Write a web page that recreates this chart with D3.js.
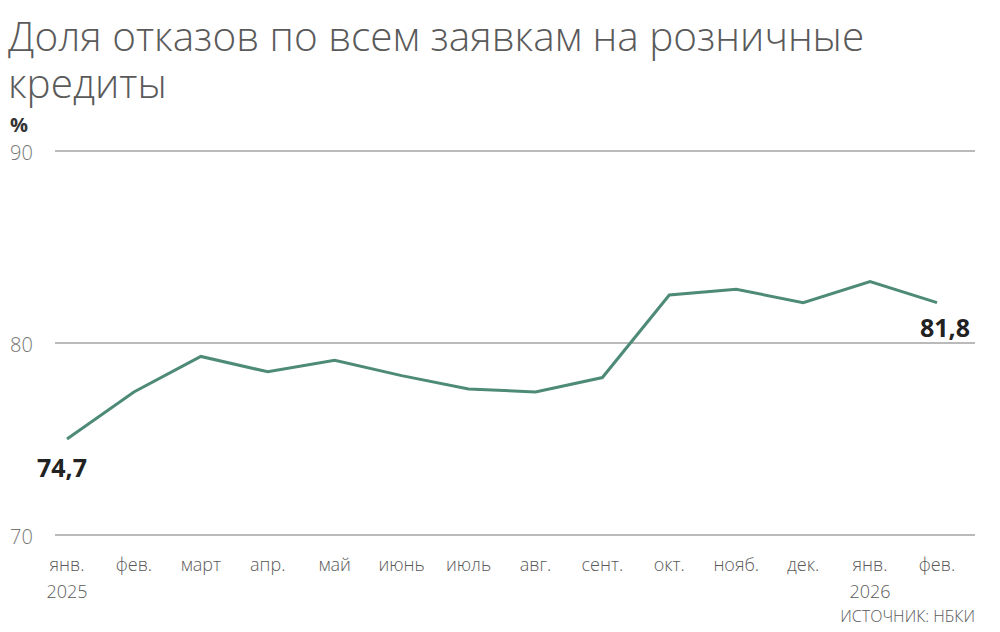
<!DOCTYPE html>
<html><head><meta charset="utf-8">
<script src="https://cdn.jsdelivr.net/npm/d3@7"></script>
<style>body{margin:0;background:#fff;font-family:"Open Sans","Noto Sans",sans-serif}</style>
</head><body><svg id="c" width="1000" height="632"></svg>
<script>
const months=["янв.","фев.","март","апр.","май","июнь","июль","авг.","сент.","окт.","нояб.","дек.","янв.","фев."];
const years=["2025","","","","","","","","","","","","2026",""];
const values=[75.0,77.45,79.3,78.5,79.1,78.3,77.6,77.45,78.2,82.5,82.8,82.1,83.2,82.1];
const yTicks=[70,80,90];
const firstLabel="74,7", lastLabel="81,8";

const svg=d3.select("#c");
const x=d3.scalePoint().domain(d3.range(months.length)).range([67,937]);
const y=d3.scaleLinear().domain([70,90]).range([535,151]);
const g="#5a5a5a";
svg.append("text").attr("x",8).attr("y",51).attr("font-size",40.5).attr("font-weight",300).attr("fill",g).text("Доля отказов по всем заявкам на розничные");
svg.append("text").attr("x",8).attr("y",98).attr("font-size",40.5).attr("font-weight",300).attr("fill",g).text("кредиты");
svg.append("text").attr("x",10).attr("y",132).attr("font-size",20).attr("font-weight",700).attr("fill","#333").text("%");
yTicks.forEach(t=>{
  svg.append("line").attr("x1",55).attr("x2",975).attr("y1",y(t)).attr("y2",y(t)).attr("stroke","#777").attr("stroke-width",1.2);
  svg.append("text").attr("x",10).attr("y",y(t)+9).attr("font-size",20).attr("font-weight",300).attr("fill","#777").text(t);
});
months.forEach((m,i)=>{
  svg.append("text").attr("x",x(i)).attr("y",571).attr("text-anchor","middle").attr("font-size",18).attr("font-weight",300).attr("fill",g).attr("textLength",null).text(m);
  if(years[i])svg.append("text").attr("x",x(i)).attr("y",598).attr("text-anchor","middle").attr("font-size",18).attr("font-weight",300).attr("fill",g).text(years[i]);
});
svg.append("path").datum(values).attr("fill","none").attr("stroke","#4e8a78").attr("stroke-width",3)
  .attr("d",d3.line().x((d,i)=>x(i)).y(d=>y(d)));
svg.append("text").attr("x",x(0)-30).attr("y",y(values[0])+38).attr("font-size",25).attr("font-weight",700).attr("fill","#222").text(firstLabel);
svg.append("text").attr("x",x(values.length-1)+33).attr("y",y(values[values.length-1])+34).attr("text-anchor","end").attr("font-size",25).attr("font-weight",700).attr("fill","#222").text(lastLabel);
svg.append("text").attr("x",975).attr("y",622).attr("text-anchor","end").attr("font-size",16).attr("font-weight",300).attr("fill",g).text("ИСТОЧНИК: НБКИ");
</script></body></html>
